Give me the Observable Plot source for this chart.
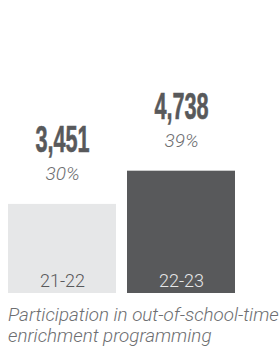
<!DOCTYPE html>
<html><head><meta charset="utf-8">
<script src="https://cdn.jsdelivr.net/npm/d3@7"></script>
<script src="https://cdn.jsdelivr.net/npm/@observablehq/plot@0.6"></script>
<style>
html,body{margin:0;padding:0;background:#fff;}
#cap{font-family:Roboto,sans-serif;font-style:italic;font-weight:300;font-size:18.8px;line-height:21px;color:#6d6e71;padding-left:8px;white-space:nowrap;overflow:hidden;width:271px;}
</style></head><body>
<div id="chart"></div>
<div id="cap"></div>
<script>
const years = ["21-22", "22-23"];
const participants = [3451, 4738];
const shares = [30, 39];
const captionLines = ["Participation in out-of-school-time", "enrichment programming"];

const data = years.map((year, i) => ({year, participants: participants[i], share: shares[i]}));
const barColors = ["#e6e7e8", "#58595b"];
const labelColors = ["#58595b", "#e6e7e8"];
const fmt = d3.format(",");

const plot = Plot.plot({
  width: 279, height: 305,
  marginLeft: 8, marginRight: 44, marginTop: 0, marginBottom: 12,
  x: {domain: years, paddingInner: 0.0925, paddingOuter: 0, axis: null},
  y: {domain: [0, 11350], axis: null},
  color: {type: "identity"},
  style: {fontFamily: "Roboto, sans-serif", background: "white", overflow: "visible"},
  marks: [
    Plot.barY(data, {x: "year", y: "participants", fill: (d, i) => barColors[i]}),
    Plot.text(data, {x: "year", y: "participants", text: d => fmt(d.participants), lineAnchor: "bottom", dy: -52.5,
      fontFamily: "'Liberation Sans', 'DejaVu Sans', sans-serif", fontWeight: "bold", fontSize: 36, fill: "#58595b"}),
    Plot.text(data, {x: "year", y: "participants", text: d => d.share + "%", lineAnchor: "bottom", dy: -24.5,
      fontStyle: "italic", fontWeight: 300, fontSize: 19, fill: "#6d6e71"}),
    Plot.text(data, {x: "year", y: () => 0, text: "year", lineAnchor: "bottom", dy: -6.5,
      fontWeight: 300, fontSize: 18, fill: (d, i) => labelColors[i]})
  ]
});
document.getElementById("chart").appendChild(plot);
document.getElementById("cap").innerHTML = captionLines.join("<br>");

const groups = plot.querySelectorAll('g[aria-label="text"]');
if (groups.length) {
  const texts = groups[0].querySelectorAll("text");
  texts.forEach(t => {
    const w = t.getComputedTextLength();
    t.setAttribute("textLength", (w * 0.6).toFixed(1));
    t.setAttribute("lengthAdjust", "spacingAndGlyphs");
    t.setAttribute("stroke", "#58595b");
    t.setAttribute("stroke-width", "0.6");
  });
}
</script>
</body></html>
